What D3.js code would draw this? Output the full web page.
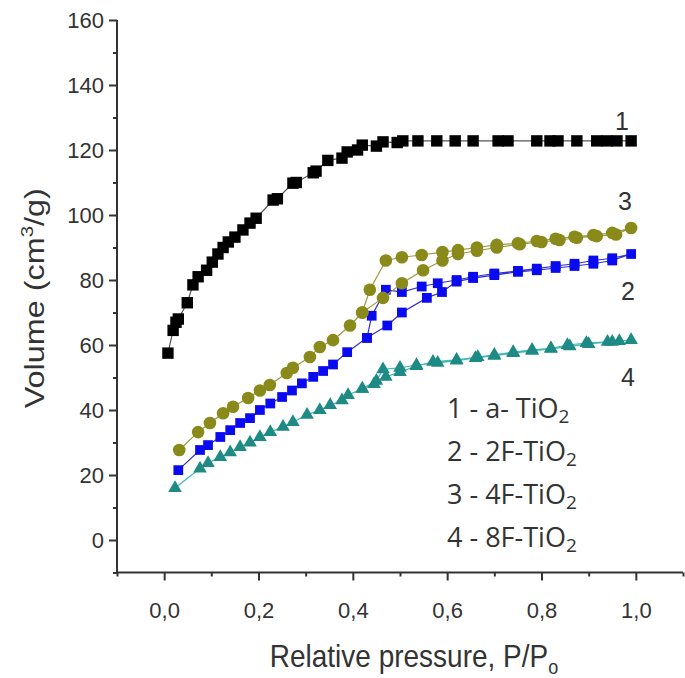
<!DOCTYPE html>
<html>
<head>
<meta charset="utf-8">
<script src="https://cdn.jsdelivr.net/npm/d3@7"></script>
<style>
  html, body { margin: 0; padding: 0; background: #fff; }
  svg { display: block; }
</style>
</head>
<body>
<svg id="chart" width="685" height="678"></svg>
<script>
// ---------- DATA ----------
const xTicks = [0, 0.2, 0.4, 0.6, 0.8, 1.0];
const yTicks = [0, 20, 40, 60, 80, 100, 120, 140, 160];

// 1 - a-TiO2 (black squares)
const s1 = [
  [0.008,57.5],[0.019,64.5],[0.025,67],[0.03,68],[0.049,73],[0.061,78.5],[0.072,81],[0.09,83],
  [0.102,85.5],[0.114,88],[0.125,90],[0.136,91.7],[0.15,93.2],[0.167,95.4],[0.182,97.5],[0.195,99],
  [0.231,104.6],[0.24,105],[0.273,109.8],[0.28,110],[0.316,113],[0.322,113.5],[0.347,116.8],[0.377,117.5],
  [0.388,119.4],[0.41,120],[0.42,121.5],[0.45,121.2],[0.464,122.5],[0.494,122.3],[0.506,122.8],
  [0.538,122.8],[0.578,122.8],[0.617,122.8],[0.655,122.8],[0.708,122.8],[0.729,122.8],[0.79,122.8],
  [0.818,122.8],[0.835,122.8],[0.875,122.8],[0.917,122.8],[0.939,122.8],[0.96,122.8],[0.99,122.8]
];
// 2 - 2F-TiO2 (blue squares): adsorption then desorption
const s2 = [
  [0.03,21.5],[0.076,27.7],[0.093,29.2],[0.119,31.7],[0.14,33.8],[0.161,36],[0.182,37.5],[0.203,40],
  [0.225,42],[0.25,44],[0.271,46],[0.292,48.2],[0.316,50.2],[0.337,52],[0.358,54],[0.388,57.8],
  [0.43,62.2],[0.473,66],[0.504,70],[0.557,74.5],[0.589,76.3],[0.62,79.5],[0.655,80.6],[0.70,81.5],
  [0.75,82.5],[0.79,83],[0.83,83.7],[0.87,84.3],[0.91,85],[0.95,86],[0.99,88],
  [0.95,86.7],[0.91,86],[0.87,85],[0.83,84.3],[0.79,83.5],[0.75,82.8],[0.70,82],[0.655,81],
  [0.62,80],[0.58,79],[0.546,78],[0.504,76.3],[0.47,77],[0.44,69],[0.43,62.2]
];
// 3 - 4F-TiO2 (olive circles): adsorption then desorption
const s3 = [
  [0.032,27.7],[0.072,33.2],[0.097,36],[0.125,39],[0.146,41],[0.178,43.7],[0.203,46],[0.224,47.7],
  [0.26,51.4],[0.273,53],[0.309,56.3],[0.33,59.4],[0.358,61.5],[0.394,66],[0.42,70],[0.464,74.5],
  [0.504,79],[0.549,83],[0.59,86],[0.623,88],[0.663,89],[0.705,90],[0.754,91],[0.80,91.7],
  [0.838,92.3],[0.875,93],[0.917,93.5],[0.958,94],[0.99,96],
  [0.95,94.5],[0.91,93.8],[0.87,93.3],[0.83,92.7],[0.79,92],[0.75,91.3],[0.705,90.8],[0.663,90],
  [0.623,89.2],[0.59,88.6],[0.546,87.7],[0.504,87],[0.47,86],[0.436,77],[0.42,70]
];
// 4 - 8F-TiO2 (teal triangles): adsorption then desorption
const s4 = [
  [0.023,16],[0.076,22],[0.093,23.7],[0.119,25.5],[0.14,27],[0.161,28.6],[0.182,30],[0.203,31.7],
  [0.225,33.2],[0.252,34.8],[0.273,36.3],[0.303,38.5],[0.33,40],[0.352,41.5],[0.377,43],[0.39,44.6],
  [0.42,46.5],[0.445,48],[0.47,50.2],[0.50,51.7],[0.535,53.5],[0.57,54.8],[0.62,55.4],[0.665,56.3],
  [0.70,57],[0.74,57.8],[0.78,58.5],[0.82,59],[0.855,60],[0.895,60.6],[0.94,61],[0.965,61.2],[0.99,61.5],
  [0.95,61],[0.90,60.3],[0.86,59.6],[0.82,58.8],[0.78,58.2],[0.74,57.5],[0.70,56.7],[0.66,56],
  [0.62,55.2],[0.58,54.5],[0.535,53.8],[0.50,53],[0.464,52.5],[0.45,49],[0.42,46.5]
];

const seriesNames = ["1", "2", "3", "4"];
const legendLines = ["1 - a- TiO", "2 - 2F-TiO", "3 - 4F-TiO", "4 - 8F-TiO"];

// ---------- CHART ----------
const svg = d3.select("#chart");
const x = d3.scaleLinear().domain([-0.1, 1.1]).range([117, 683]);
const y = d3.scaleLinear().domain([-10, 160]).range([572.5, 20]);
const axisColor = "#333";
const textColor = "#333";
const tickFont = "'Liberation Sans', Arial, sans-serif";

// Axes
const xAxis = svg.append("g").attr("transform", `translate(0,${y(-10)})`)
  .call(d3.axisBottom(x).tickValues(xTicks).tickSize(8).tickPadding(22)
    .tickFormat(d => d3.format(".1f")(d).replace(".", ",")));
const xMinor = svg.append("g").attr("transform", `translate(0,${y(-10)})`)
  .call(d3.axisBottom(x).tickValues([-0.1, 0.1, 0.3, 0.5, 0.7, 0.9, 1.1]).tickSize(4).tickFormat(""));
const yAxis = svg.append("g").attr("transform", `translate(${x(-0.1)},0)`)
  .call(d3.axisLeft(y).tickValues(yTicks).tickSize(8).tickPadding(5));
const yMinor = svg.append("g").attr("transform", `translate(${x(-0.1)},0)`)
  .call(d3.axisLeft(y).tickValues([-10, 10, 30, 50, 70, 90, 110, 130, 150]).tickSize(4).tickFormat(""));

[xAxis, xMinor, yAxis, yMinor].forEach(g => {
  g.select(".domain").attr("stroke", axisColor).attr("stroke-width", 2);
  g.selectAll(".tick line").attr("stroke", axisColor).attr("stroke-width", 2);
  g.selectAll(".tick text").attr("fill", textColor).attr("font-family", tickFont).attr("font-size", 22);
});
xAxis.select(".domain").attr("d", `M${x(-0.1)},0H${x(1.1)}`);
xMinor.select(".domain").remove();
yAxis.select(".domain").attr("d", `M0,${y(-10)}V${y(160)}`);
yMinor.select(".domain").remove();

// Series
const styles = [
  { data: s1, color: "#000000", line: "#555555", sym: d3.symbolSquare, size: 130 },
  { data: s2, color: "#0a0af0", line: "#3030d0", sym: d3.symbolSquare, size: 95 },
  { data: s3, color: "#8a8a1a", line: "#9a9a40", sym: d3.symbolCircle, size: 125 },
  { data: s4, color: "#1e8a84", line: "#40b8b8", sym: d3.symbolTriangle, size: 80 }
];
const line = d3.line().x(d => x(d[0])).y(d => y(d[1]));
[3, 1, 2, 0].forEach(i => {
  const s = styles[i];
  svg.append("path").datum(s.data).attr("d", line)
    .attr("fill", "none").attr("stroke", s.line).attr("stroke-width", 1.2);
  svg.append("g").selectAll("path").data(s.data).join("path")
    .attr("transform", d => `translate(${x(d[0])},${y(d[1])})`)
    .attr("d", d3.symbol(s.sym, s.size))
    .attr("fill", s.color);
});

// Curve labels
const labelPos = [[622, 130], [628, 300], [625, 210], [628, 386]];
seriesNames.forEach((n, i) => {
  svg.append("text").attr("x", labelPos[i][0]).attr("y", labelPos[i][1])
    .attr("text-anchor", "middle").attr("font-family", tickFont)
    .attr("font-size", 25).attr("fill", textColor).text(n);
});

// Legend text
const legFont = "'Open Sans', 'Noto Sans', sans-serif";
legendLines.forEach((t, i) => {
  const tx = svg.append("text").attr("x", 447).attr("y", 418 + i * 43)
    .attr("font-family", legFont).attr("font-size", 27).attr("fill", textColor);
  tx.append("tspan").text(t);
  tx.append("tspan").attr("font-size", 19).attr("dy", 5).text("2");
});

// Axis titles
const yt = svg.append("text")
  .attr("transform", `translate(44,${(y(160) + y(-10)) / 2 + 2}) rotate(-90) scale(1.2,1)`)
  .attr("text-anchor", "middle").attr("font-family", tickFont).attr("font-size", 27).attr("fill", textColor);
yt.append("tspan").text("Volume (cm");
yt.append("tspan").attr("font-size", 17).attr("dy", -11).text("3");
yt.append("tspan").attr("dy", 11).text("/g)");

const xt = svg.append("text").attr("transform", "translate(414,667) scale(1,1.15)")
  .attr("text-anchor", "middle").attr("font-family", tickFont).attr("font-size", 28).attr("fill", textColor);
xt.append("tspan").text("Relative pressure, P/P");
xt.append("tspan").attr("font-size", 18).attr("dy", 6).text("o");
</script>
</body>
</html>
